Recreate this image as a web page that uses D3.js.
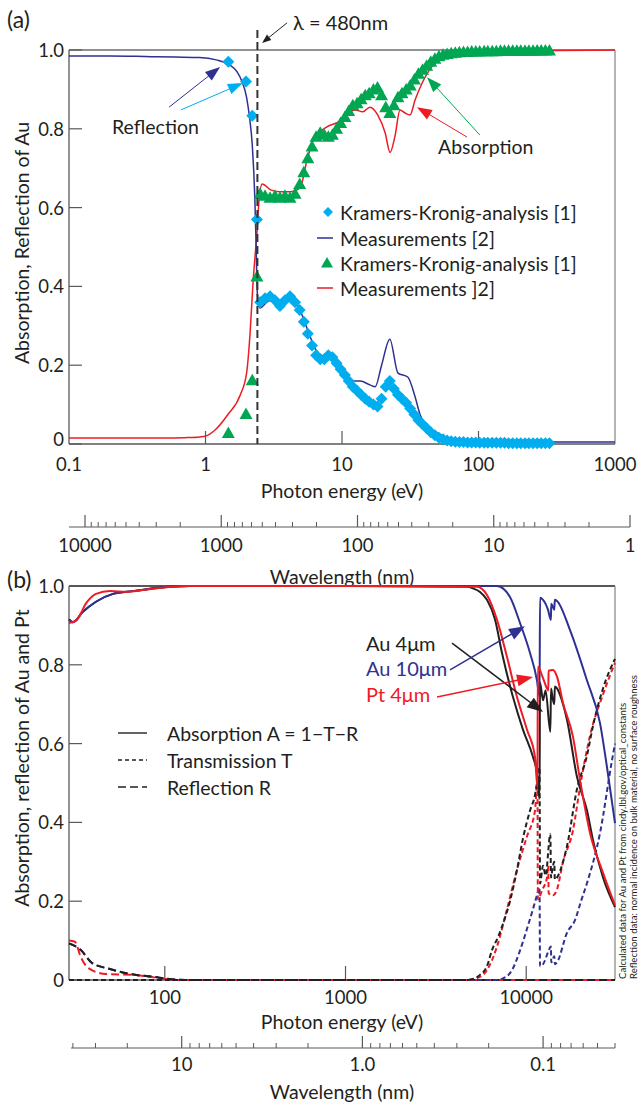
<!DOCTYPE html>
<html><head><meta charset="utf-8">
<script src="https://cdn.jsdelivr.net/npm/d3@7"></script>
<style>
body{margin:0;background:#fff}
svg{display:block}
text{font-family:Lato,"Open Sans",sans-serif;fill:#231f20}
</style>
</head><body>
<svg id="c" width="639" height="1104"></svg>
<script>
// ---------------- DATA : panel (a) ----------------
const topEnergyTicks = [0.1, 1, 10, 100, 1000];
const topEnergyLabels = ["0.1", "1", "10", "100", "1000"];
const topInnerTicks = [1, 10, 100];
const yTicks = [0, 0.2, 0.4, 0.6, 0.8, 1.0];
const yLabels = ["0", "0.2", "0.4", "0.6", "0.8", "1.0"];
const topWlTicks = [10000, 1000, 100, 10, 1];
const topWlLabels = ["10000", "1000", "100", "10", "1"];
const edgeEnergy = 2.4; // λ = 480 nm marker

// Measured reflection (navy line)
const measR_E = [0.1,0.2,0.4,0.6,0.9,1.2,1.5,1.7,1.85,2.0,2.1,2.2,2.3,2.35,2.4,2.5,2.97,3.51,4.16,4.92,5.6,6.4,7.5,9.0,10.5,11.8,13.6,16.0,17.5,19.5,22.4,25.7,30.3,34.3,37.3,44,52,62,86,150,1000];
const measR   = [0.985,0.985,0.983,0.982,0.981,0.975,0.962,0.945,0.92,0.88,0.83,0.76,0.62,0.5,0.38,0.345,0.365,0.36,0.375,0.34,0.29,0.24,0.22,0.21,0.185,0.16,0.16,0.15,0.145,0.2,0.266,0.18,0.17,0.12,0.075,0.04,0.025,0.012,0.006,0.005,0.005];

// Measured absorption (red line)
const measA_E = [0.1,0.3,0.5,0.7,0.91,1.0,1.17,1.46,1.8,2.0,2.12,2.23,2.38,2.47,2.6,3.0,3.5,4.16,4.92,5.54,6.14,7.76,9.67,10.9,12.5,14.2,16.0,18.3,20.7,22.5,24.4,26.6,29.0,31.5,34.3,38.5,42.7,52.2,73.2,115,251,1000];
const measA   = [0.015,0.015,0.015,0.016,0.018,0.02,0.035,0.075,0.125,0.18,0.28,0.41,0.535,0.62,0.66,0.645,0.64,0.64,0.65,0.72,0.77,0.805,0.82,0.84,0.848,0.843,0.855,0.835,0.79,0.74,0.78,0.848,0.84,0.835,0.873,0.915,0.944,0.975,0.987,0.995,0.998,1.0];

// Kramers-Kronig analysis points (shared energies)
const kkE = [1.47,1.98,2.2,2.38,2.51,2.73,2.97,3.23,3.51,3.82,4.16,4.53,4.90,5.25,5.62,6.03,6.46,6.92,7.41,7.94,8.51,9.12,9.77,10.5,11.2,12.0,12.9,13.8,14.8,15.8,17.0,18.2,19.5,20.9,22.4,24.0,25.7,27.5,29.5,31.6,33.9,36.3,38.9,41.7,44.7,47.9,51.3,55.0,58.9,63.1,67.6,72.4,77.6,83.2,89.1,95.5,102,110,117,126,135,145,155,166,178,191,204,219,234,251,269,288,309,331];
const kkR = [0.97,0.92,0.833,0.57,0.36,0.37,0.375,0.365,0.35,0.365,0.375,0.36,
  0.34,0.31,0.28,0.25,0.225,0.215,0.215,0.225,0.22,0.205,0.19,0.175,0.16,0.145,0.135,0.125,0.115,0.107,0.10,0.095,0.115,0.145,0.16,0.14,0.125,0.115,0.105,0.09,0.075,0.06,0.05,0.04,0.03,0.022,0.016,0.012,0.009,0.007,0.006,0.005,0.005,0.004,0.004,0.004,0.003,0.003,0.003,0.003,0.003,0.003,0.003,0.002,0.002,0.002,0.002,0.002,0.002,0.002,0.002,0.002,0.002,0.002];
const kkA = [0.028,0.076,0.162,0.425,0.635,0.63,0.625,0.63,0.625,0.63,0.625,0.635,
  0.66,0.69,0.725,0.755,0.78,0.79,0.785,0.78,0.785,0.80,0.815,0.83,0.845,0.86,0.865,0.875,0.885,0.89,0.90,0.905,0.885,0.855,0.84,0.86,0.88,0.89,0.90,0.91,0.925,0.94,0.95,0.96,0.97,0.978,0.984,0.988,0.99,0.992,0.993,0.994,0.995,0.995,0.996,0.996,0.996,0.997,0.997,0.997,0.997,0.998,0.998,0.998,0.998,0.998,0.998,0.998,0.998,0.998,0.999,0.999,0.999,0.999];

const legendA = ["Kramers-Kronig-analysis [1]", "Measurements [2]", "Kramers-Kronig-analysis [1]", "Measurements ]2]"];

// ---------------- DATA : panel (b) ----------------
const botEnergyTicks = [100, 1000, 10000];
const botEnergyLabels = ["100", "1000", "10000"];
const botWlMajor = [10, 1, 0.1];
const botWlLabels = ["10", "1.0", "0.1"];

// Absorption A = 1-T-R
const auA_E = [29.5,31.0,35.1,41.6,51.7,66.7,90.5,138,1000,4700,5077,5551,6068,6720,7346,8449,9603,10903,11473,11850,11925,12390,12800,13600,13720,14000,14300,14400,14806,15986,16821,19104,21700,23423,26609,31000];
const auA   = [0.915,0.908,0.934,0.96,0.98,0.987,0.995,1.0,1.0,0.998,0.994,0.985,0.965,0.915,0.83,0.718,0.635,0.566,0.525,0.46,0.755,0.71,0.735,0.63,0.74,0.715,0.70,0.745,0.74,0.70,0.66,0.515,0.43,0.355,0.26,0.185];
const ptA_E = [29.5,32.6,36.8,41.6,49.7,61.8,75.7,102.8,132,1000,5342,6068,6894,7829,8894,10104,11186,11540,11600,12300,13036,13250,13300,14069,14806,15986,18154,19851,22547,26609,31000];
const ptA   = [0.906,0.914,0.957,0.98,0.987,0.985,0.99,0.997,1.0,1.0,0.998,0.977,0.914,0.82,0.718,0.635,0.566,0.49,0.795,0.77,0.74,0.735,0.785,0.787,0.77,0.703,0.617,0.508,0.373,0.272,0.19];
const au10A_E = [29.5,31.0,35.1,41.6,51.7,66.7,90.5,138,1000,6894,8133,9242,10496,11473,11850,11925,12390,13200,13700,13760,14300,14400,14806,17476,21700,25612,27995,31000];
const au10A   = [0.915,0.908,0.934,0.96,0.98,0.987,0.995,1.0,1.0,1.0,0.972,0.906,0.83,0.76,0.718,0.97,0.965,0.94,0.914,0.955,0.94,0.965,0.962,0.888,0.76,0.652,0.54,0.398];

// Transmission T
const auT_E = [29.5,4700,5077,5551,6068,6469,7000,7534,8133,8894,9603,10496,11186,11473,11850,11925,12390,12800,13600,13720,14000,14300,14400,14806,15986,16821,19104,21700,23423,26609,31000];
const auT   = [0,0,0.003,0.013,0.035,0.076,0.11,0.15,0.2,0.28,0.36,0.43,0.47,0.5,0.54,0.245,0.29,0.265,0.37,0.26,0.285,0.30,0.255,0.26,0.30,0.34,0.485,0.57,0.645,0.74,0.815];
const ptT_E = [29.5,4700,5342,6068,6894,7829,8894,10104,11186,11540,11600,12300,13036,13250,13300,14069,14806,15986,18154,19851,22547,26609,31000];
const ptT   = [0,0,0.005,0.025,0.085,0.18,0.28,0.365,0.43,0.51,0.205,0.23,0.26,0.29,0.22,0.215,0.23,0.30,0.38,0.49,0.62,0.725,0.805];
const au10T_E = [29.5,6807,7346,8343,9242,10104,10903,11473,11850,11925,12390,13200,13700,13760,14300,14400,14806,16821,18623,20104,21700,25612,29842,31000];
const au10T   = [0,0,0.003,0.025,0.075,0.13,0.18,0.215,0.235,0.035,0.04,0.07,0.085,0.045,0.06,0.04,0.045,0.12,0.152,0.2,0.246,0.373,0.558,0.60];

// Reflection R
const auR_E = [29.5,34.3,39.6,49.7,64.2,87.1,102.8,130,31000];
const auR   = [0.093,0.076,0.043,0.028,0.015,0.008,0.003,0,0];
const au10R_E = [29.5,34.3,39.6,49.7,64.2,87.1,102.8,130,31000];
const au10R   = [0.093,0.076,0.043,0.028,0.015,0.008,0.003,0,0];
const ptR_E = [29.5,31.8,34.3,37.8,47.3,66.7,82.8,97.7,120,31000];
const ptR   = [0.10,0.097,0.058,0.03,0.015,0.013,0.008,0.003,0,0];

const legendB = ["Absorption A = 1\u2212T\u2212R", "Transmission T", "Reflection R"];
const sampleLabels = ["Au 4\u03bcm", "Au 10\u03bcm", "Pt 4\u03bcm"];
const noteLines = ["Calculated data for Au and Pt from cindy.lbl.gov/optical_constants",
                   "Reflection data: normal incidence on bulk material, no surface roughness"];

// ---------------- STYLE ----------------
const NAVY = "#2e3192", CYAN = "#00aeef", GREEN = "#00a651", RED = "#ed1c24", BLACK = "#231f20";
const AX = "#58595b", FR = "#8a8c8e";
const FS = 19.5, FT = 18.5;

const svg = d3.select("#c");
const zip = (a, b) => a.map((v, i) => [v, b[i]]);

function arrow(g, x1, y1, x2, y2, color, len, hw, sw) {
  const dx = x2 - x1, dy = y2 - y1, L = Math.hypot(dx, dy), ux = dx / L, uy = dy / L;
  const bx = x2 - ux * len, by = y2 - uy * len;
  g.append("line").attr("x1", x1).attr("y1", y1).attr("x2", bx + ux * 1).attr("y2", by + uy * 1)
    .attr("stroke", color).attr("stroke-width", sw || 1.2);
  g.append("path").attr("d", `M${x2},${y2}L${bx - uy * hw},${by + ux * hw}L${bx + uy * hw},${by - ux * hw}Z`)
    .attr("fill", color);
}

// ================= PANEL (a) =================
const gA = svg.append("g");
const xA = d3.scaleLog().domain([0.1, 1000]).range([69, 615]);
const yA = d3.scaleLinear().domain([0, 1]).range([444, 50]);
const wlA = d3.scaleLog().domain([10000, 1]).range([85, 630]);

gA.append("text").attr("x", 7).attr("y", 19).attr("dominant-baseline", "central")
  .attr("font-size", 23).text("(a)");

// frame
gA.append("line").attr("x1", 69).attr("x2", 615).attr("y1", yA(1)).attr("y2", yA(1)).attr("stroke", "#6d6e71").attr("stroke-width", 1.3);
gA.append("line").attr("x1", 615).attr("x2", 615).attr("y1", yA(1)).attr("y2", yA(0)).attr("stroke", FR).attr("stroke-width", 1.3);
gA.append("line").attr("x1", 69).attr("x2", 69).attr("y1", yA(1)).attr("y2", yA(0)).attr("stroke", AX).attr("stroke-width", 1.3);
gA.append("line").attr("x1", 69).attr("x2", 615).attr("y1", yA(0)).attr("y2", yA(0)).attr("stroke", AX).attr("stroke-width", 1.3);

yTicks.forEach((t, i) => {
  gA.append("line").attr("x1", 69).attr("x2", 82).attr("y1", yA(t)).attr("y2", yA(t)).attr("stroke", AX).attr("stroke-width", 1.2);
  gA.append("text").attr("x", 64).attr("y", yA(t) - (t === 0 ? 5 : 0)).attr("text-anchor", "end")
    .attr("dominant-baseline", "central").attr("font-size", FT).text(yLabels[i]);
});
topInnerTicks.forEach(t => {
  gA.append("line").attr("x1", xA(t)).attr("x2", xA(t)).attr("y1", yA(0)).attr("y2", yA(0) - 13).attr("stroke", AX).attr("stroke-width", 1.2);
});
topEnergyTicks.forEach((t, i) => {
  gA.append("text").attr("x", xA(t)).attr("y", 464).attr("text-anchor", "middle")
    .attr("dominant-baseline", "central").attr("font-size", FT).text(topEnergyLabels[i]);
});
gA.append("text").attr("x", 342).attr("y", 490).attr("text-anchor", "middle").attr("dominant-baseline", "central")
  .attr("font-size", FS).text("Photon energy (eV)");
gA.append("text").attr("transform", `translate(21,${(yA(0) + yA(1)) / 2 - 4}) rotate(-90)`).attr("text-anchor", "middle")
  .attr("dominant-baseline", "central").attr("font-size", FS).text("Absorption, Reflection of Au");

// wavelength axis (a)
const wlYa = 527;
gA.append("line").attr("x1", 69).attr("x2", 630).attr("y1", wlYa).attr("y2", wlYa).attr("stroke", AX).attr("stroke-width", 1.2);
topWlTicks.forEach((t, i) => {
  gA.append("line").attr("x1", wlA(t)).attr("x2", wlA(t)).attr("y1", wlYa).attr("y2", wlYa - 12).attr("stroke", AX).attr("stroke-width", 1.2);
  gA.append("text").attr("x", wlA(t)).attr("y", 545).attr("text-anchor", "middle").attr("dominant-baseline", "central")
    .attr("font-size", FT).text(topWlLabels[i]);
});
wlA.ticks().filter(t => !topWlTicks.includes(t)).forEach(t => {
  const x = wlA(t);
  if (x < 69 || x > 630) return;
  gA.append("line").attr("x1", x).attr("x2", x).attr("y1", wlYa).attr("y2", wlYa - 5).attr("stroke", AX).attr("stroke-width", 1);
});
gA.append("text").attr("x", 342).attr("y", 576).attr("text-anchor", "middle").attr("dominant-baseline", "central")
  .attr("font-size", FS).text("Wavelength (nm)");

// curves (a)
const lineA = d3.line().x(d => xA(d[0])).y(d => yA(d[1])).curve(d3.curveMonotoneX);
gA.append("path").attr("d", lineA(zip(measA_E, measA))).attr("fill", "none").attr("stroke", RED).attr("stroke-width", 1.5);
gA.append("path").attr("d", lineA(zip(measR_E, measR))).attr("fill", "none").attr("stroke", NAVY).attr("stroke-width", 1.5);

const DIAM = "M0,-6L6,0L0,6L-6,0Z";
const TRI = "M0,-6.5L6.5,5L-6.5,5Z";
gA.append("g").selectAll("path").data(zip(kkE, kkA)).join("path")
  .attr("d", TRI).attr("fill", GREEN).attr("transform", d => `translate(${xA(d[0])},${yA(d[1])})`);
gA.append("g").selectAll("path").data(zip(kkE, kkR)).join("path")
  .attr("d", DIAM).attr("fill", CYAN).attr("transform", d => `translate(${xA(d[0])},${yA(d[1])})`);

// lambda marker
gA.append("line").attr("x1", xA(edgeEnergy)).attr("x2", xA(edgeEnergy)).attr("y1", 30).attr("y2", yA(0))
  .attr("stroke", "#333").attr("stroke-width", 2).attr("stroke-dasharray", "8,4");
arrow(gA, xA(3.96), yA(1.069), xA(2.6), yA(1.018), BLACK, 9, 3.5, 1);
gA.append("text").attr("x", xA(4.38)).attr("y", yA(1.071)).attr("dominant-baseline", "central")
  .attr("font-size", 20).text("\u03bb = 480nm");

// annotations (a)
arrow(gA, xA(0.541), yA(0.855), xA(1.28), yA(0.957), NAVY, 15, 5.5, 1);
arrow(gA, xA(0.661), yA(0.848), xA(1.88), yA(0.916), CYAN, 15, 5.5, 1);
gA.append("text").attr("x", xA(0.2066)).attr("y", yA(0.805)).attr("dominant-baseline", "central")
  .attr("font-size", FS).text("Reflection");
arrow(gA, xA(82.4), yA(0.779), xA(35.4), yA(0.855), RED, 15, 5.5, 1);
arrow(gA, xA(102.5), yA(0.784), xA(42.0), yA(0.931), GREEN, 15, 5.5, 1);
gA.append("text").attr("x", xA(50.5)).attr("y", yA(0.754)).attr("dominant-baseline", "central")
  .attr("font-size", FS).text("Absorption");

// legend (a)
const legY = [212, 238, 263, 288];
legendA.forEach((s, i) => {
  const y = legY[i];
  if (i === 0) gA.append("path").attr("d", "M0,-5L5,0L0,5L-5,0Z").attr("fill", CYAN).attr("transform", `translate(328,${y})`);
  if (i === 2) gA.append("path").attr("d", "M0,-6L6,4.5L-6,4.5Z").attr("fill", GREEN).attr("transform", `translate(327,${y})`);
  if (i === 1) gA.append("line").attr("x1", 317).attr("x2", 333).attr("y1", y).attr("y2", y).attr("stroke", NAVY).attr("stroke-width", 1.5);
  if (i === 3) gA.append("line").attr("x1", 317).attr("x2", 333).attr("y1", y).attr("y2", y).attr("stroke", RED).attr("stroke-width", 1.5);
  gA.append("text").attr("x", 340).attr("y", y).attr("dominant-baseline", "central").attr("font-size", FS).text(s);
});

// ================= PANEL (b) =================
const gB = svg.append("g");
const xB = d3.scaleLog().domain([29.5, 31000]).range([69, 615]);
const yB = d3.scaleLinear().domain([0, 1]).range([980, 586]);
const wlB = d3.scaleLog().domain([1240 / 29.5, 1240 / 31000]).range([69, 615]);

gB.append("text").attr("x", 7).attr("y", 579).attr("dominant-baseline", "central").attr("font-size", 23).text("(b)");

gB.append("line").attr("x1", 69).attr("x2", 615).attr("y1", yB(1)).attr("y2", yB(1)).attr("stroke", BLACK).attr("stroke-width", 1.3);
gB.append("line").attr("x1", 615).attr("x2", 615).attr("y1", yB(1)).attr("y2", yB(0)).attr("stroke", FR).attr("stroke-width", 1.3);
gB.append("line").attr("x1", 69).attr("x2", 69).attr("y1", yB(1)).attr("y2", yB(0)).attr("stroke", AX).attr("stroke-width", 1.3);
gB.append("line").attr("x1", 69).attr("x2", 615).attr("y1", yB(0)).attr("y2", yB(0)).attr("stroke", AX).attr("stroke-width", 1.3);

yTicks.forEach((t, i) => {
  gB.append("line").attr("x1", 69).attr("x2", 82).attr("y1", yB(t)).attr("y2", yB(t)).attr("stroke", AX).attr("stroke-width", 1.2);
  gB.append("text").attr("x", 64).attr("y", yB(t)).attr("text-anchor", "end")
    .attr("dominant-baseline", "central").attr("font-size", FT).text(yLabels[i]);
});
botEnergyTicks.forEach((t, i) => {
  gB.append("line").attr("x1", xB(t)).attr("x2", xB(t)).attr("y1", yB(0)).attr("y2", yB(0) - 14).attr("stroke", AX).attr("stroke-width", 1.2);
  gB.append("text").attr("x", xB(t)).attr("y", 997).attr("text-anchor", "middle").attr("dominant-baseline", "central")
    .attr("font-size", FT).text(botEnergyLabels[i]);
});
gB.append("text").attr("x", 342).attr("y", 1021).attr("text-anchor", "middle").attr("dominant-baseline", "central")
  .attr("font-size", FS).text("Photon energy (eV)");
gB.append("text").attr("transform", `translate(21,758) rotate(-90)`).attr("text-anchor", "middle")
  .attr("dominant-baseline", "central").attr("font-size", FS).text("Absorption, reflection of Au and Pt");

const wlYb = 1048;
gB.append("line").attr("x1", 71).attr("x2", 615).attr("y1", wlYb).attr("y2", wlYb).attr("stroke", AX).attr("stroke-width", 1.2);
botWlMajor.forEach((t, i) => {
  gB.append("line").attr("x1", wlB(t)).attr("x2", wlB(t)).attr("y1", wlYb).attr("y2", wlYb - 12).attr("stroke", AX).attr("stroke-width", 1.2);
  gB.append("text").attr("x", wlB(t)).attr("y", 1064).attr("text-anchor", "middle").attr("dominant-baseline", "central")
    .attr("font-size", FT).text(botWlLabels[i]);
});
wlB.ticks().filter(t => !botWlMajor.some(m => Math.abs(m - t) < 1e-9)).forEach(t => {
  const x = wlB(t);
  if (x < 70 || x > 615) return;
  gB.append("line").attr("x1", x).attr("x2", x).attr("y1", wlYb).attr("y2", wlYb - 5).attr("stroke", AX).attr("stroke-width", 1);
});
gB.append("text").attr("x", 342).attr("y", 1091).attr("text-anchor", "middle").attr("dominant-baseline", "central")
  .attr("font-size", FS).text("Wavelength (nm)");

// curves (b)
const lineB = d3.line().x(d => xB(d[0])).y(d => yB(d[1])).curve(d3.curveMonotoneX);
const drawB = (E, V, color, dash) => gB.append("path").attr("d", lineB(zip(E, V))).attr("fill", "none")
  .attr("stroke", color).attr("stroke-width", 2).attr("stroke-dasharray", dash || null);
const TD = "5,3", RD = "8,4";
drawB(au10R_E, au10R, NAVY, RD);
drawB(ptR_E, ptR, RED, RD);
drawB(auR_E, auR, BLACK, RD);
drawB(au10T_E, au10T, NAVY, TD);
drawB(ptT_E, ptT, RED, TD);
drawB(auT_E, auT, BLACK, TD);
drawB(auA_E, auA, BLACK);
drawB(au10A_E, au10A, NAVY);
drawB(ptA_E, ptA, RED);

// legend (b)
const legBY = [733, 760, 787];
const legDash = [null, "4,3", "8,4"];
legendB.forEach((s, i) => {
  gB.append("line").attr("x1", 118).attr("x2", 147).attr("y1", legBY[i]).attr("y2", legBY[i])
    .attr("stroke", BLACK).attr("stroke-width", 1.4).attr("stroke-dasharray", legDash[i]);
  gB.append("text").attr("x", 167).attr("y", legBY[i]).attr("dominant-baseline", "central").attr("font-size", FS).text(s);
});

// sample annotations (b)
const sampleColors = [BLACK, NAVY, RED];
const sampleY = [0.855, 0.792, 0.726];
sampleLabels.forEach((s, i) => {
  gB.append("text").attr("x", xB(1298)).attr("y", yB(sampleY[i])).attr("dominant-baseline", "central")
    .attr("font-size", 20).style("fill", sampleColors[i]).text(s);
});
arrow(gB, xB(3886), yB(0.855), xB(12390), yB(0.680), BLACK, 16, 6, 1.5);
arrow(gB, xB(3788), yB(0.787), xB(9847), yB(0.898), NAVY, 16, 6, 1.5);
arrow(gB, xB(3210), yB(0.718), xB(10903), yB(0.769), RED, 16, 6, 1.5);

// side note, two rotated lines squeezed into the right margin
noteLines.forEach((s, i) => {
  gB.append("text").attr("transform", `translate(${626 + i * 10.5},979) rotate(-90)`)
    .attr("font-size", 9.6).text(s);
});
</script>
</body></html>
